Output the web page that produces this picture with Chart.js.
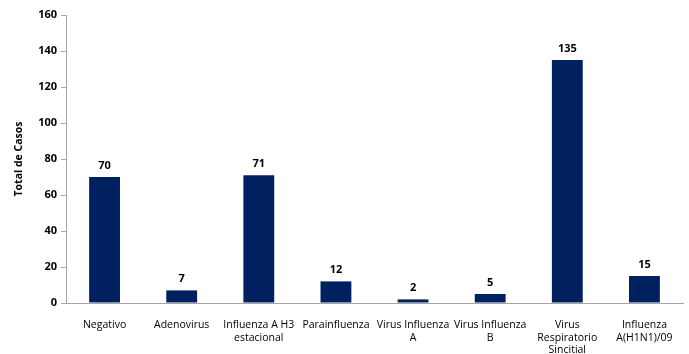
<!DOCTYPE html>
<html>
<head>
<meta charset="utf-8">
<script src="https://cdn.jsdelivr.net/npm/chart.js@4/dist/chart.umd.min.js"></script>
<style>
  html, body { margin: 0; padding: 0; background: #fff; }
  #wrap { width: 689px; height: 354px; }
</style>
</head>
<body>
<div id="wrap"><canvas id="c" width="689" height="354"></canvas></div>
<script>
const categories = [
  "Negativo",
  "Adenovirus",
  ["Influenza A H3", "estacional"],
  "Parainfluenza",
  ["Virus Influenza", "A"],
  ["Virus Influenza", "B"],
  ["Virus", "Respiratorio", "Sincitial"],
  ["Influenza", "A(H1N1)/09"]
];
const casos = [70, 7, 71, 12, 2, 5, 135, 15];
const yTicks = [0, 20, 40, 60, 80, 100, 120, 140, 160];

const FONT = "'Open Sans', 'Liberation Sans', sans-serif";

// Writes each bar's value above it
const valueLabels = {
  id: 'valueLabels',
  afterDatasetsDraw(chart) {
    const ctx = chart.ctx;
    const meta = chart.getDatasetMeta(0);
    ctx.save();
    ctx.font = "bold 11px " + FONT;
    ctx.fillStyle = '#000';
    ctx.textAlign = 'center';
    ctx.textBaseline = 'bottom';
    meta.data.forEach((bar, i) => {
      ctx.fillText(String(casos[i]), bar.x, bar.y - 6);
    });
    ctx.restore();
  }
};

new Chart(document.getElementById('c'), {
  type: 'bar',
  data: {
    labels: categories,
    datasets: [{
      data: casos,
      backgroundColor: '#002060',
      borderWidth: 0,
      barPercentage: 0.4,
      categoryPercentage: 1.0
    }]
  },
  options: {
    responsive: false,
    animation: false,
    devicePixelRatio: 1,
    layout: { padding: { top: 15, right: 6, left: 0, bottom: 0 } },
    plugins: { legend: { display: false }, tooltip: { enabled: false } },
    scales: {
      x: {
        grid: { display: false },
        border: { display: true, color: '#a6a6a6', width: 1 },
        ticks: {
          color: '#000',
          font: { family: FONT, size: 10.5 },
          maxRotation: 0,
          autoSkip: false,
          padding: 8
        },
        afterFit(s) { s.height = 51; }
      },
      y: {
        min: 0,
        max: 160,
        afterBuildTicks(s) { s.ticks = yTicks.map(v => ({ value: v })); },
        grid: {
          display: true,
          drawOnChartArea: false,
          drawTicks: true,
          tickLength: 5,
          color: '#a6a6a6'
        },
        border: { display: true, color: '#a6a6a6', width: 1 },
        ticks: {
          color: '#000',
          font: { family: FONT, size: 11, weight: 'bold' },
          padding: 4
        },
        title: {
          display: true,
          text: 'Total de Casos',
          color: '#000',
          font: { family: FONT, size: 10.5, weight: 'bold' },
          padding: { top: 13, bottom: 4 }
        },
        afterFit(s) { s.width = 66; }
      }
    }
  },
  plugins: [valueLabels]
});
</script>
</body>
</html>
